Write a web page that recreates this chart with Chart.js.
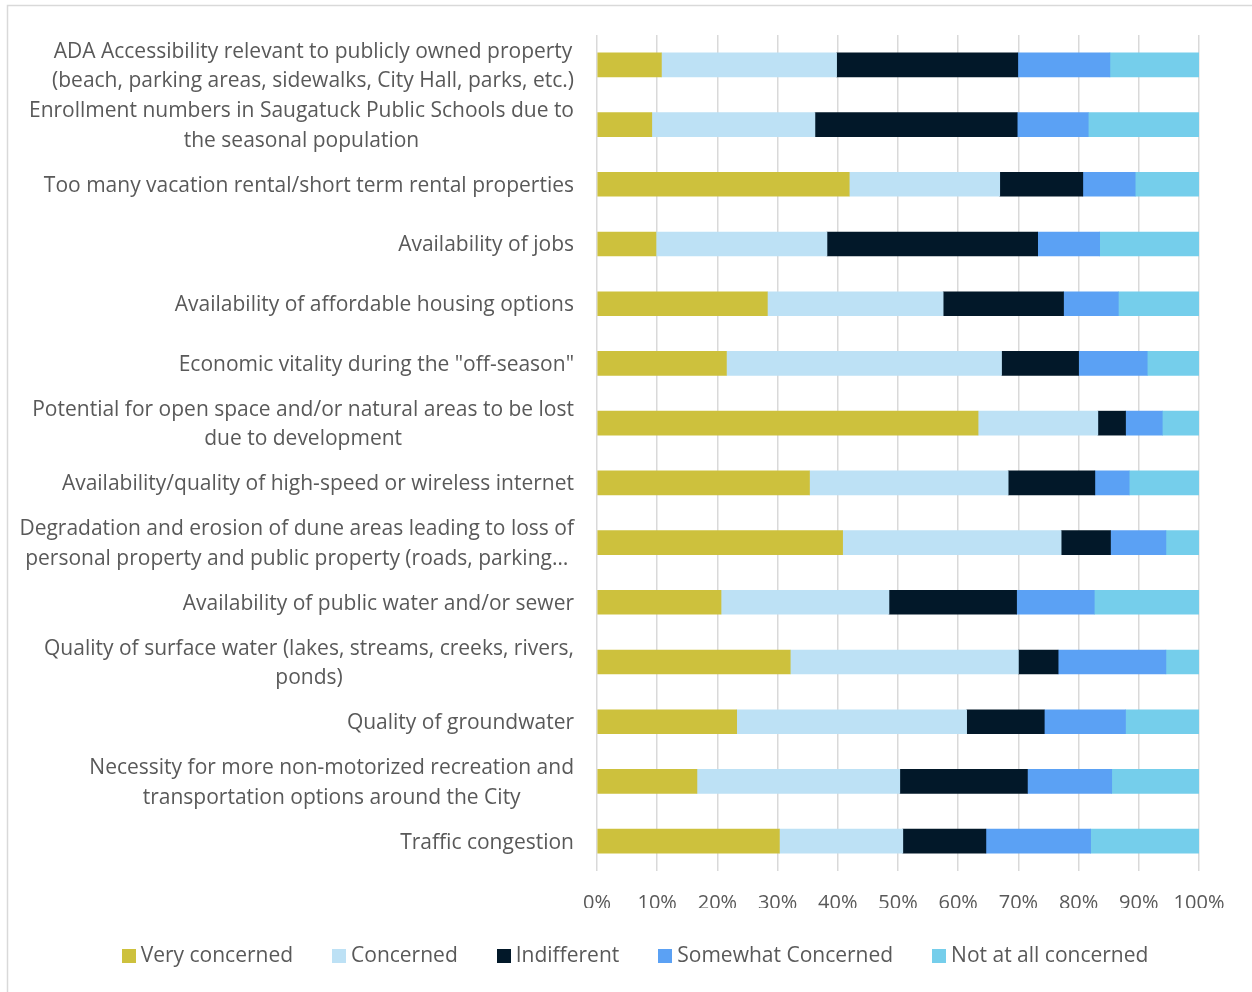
<!DOCTYPE html>
<html>
<head>
<meta charset="utf-8">
<title>Community concerns</title>
<script src="https://cdn.jsdelivr.net/npm/chart.js@4.4.1/dist/chart.umd.min.js"></script>
<style>
  html, body { margin: 0; padding: 0; background: #ffffff; }
  canvas { display: block; }
</style>
</head>
<body>
<canvas id="chart" width="1252" height="992"></canvas>
<script>
// Survey topics, each given as its display lines
const categories = [
  ["ADA Accessibility relevant to publicly owned property", "(beach, parking areas, sidewalks, City Hall, parks, etc.)"],
  ["Enrollment numbers in Saugatuck Public Schools due to", "the seasonal population"],
  ["Too many vacation rental/short term rental properties"],
  ["Availability of jobs"],
  ["Availability of affordable housing options"],
  ["Economic vitality during the \"off-season\""],
  ["Potential for open space and/or natural areas to be lost", "due to development"],
  ["Availability/quality of high-speed or wireless internet"],
  ["Degradation and erosion of dune areas leading to loss of", "personal property and public property (roads, parking\u2026"],
  ["Availability of public water and/or sewer"],
  ["Quality of surface water (lakes, streams, creeks, rivers,", "ponds)"],
  ["Quality of groundwater"],
  ["Necessity for more non-motorized recreation and", "transportation options around the City"],
  ["Traffic congestion"]
];

// Share of responses per topic (%)
const veryConcerned     = [10.7,  9.1, 41.9,  9.8, 28.3, 21.5, 63.3, 35.3, 40.8, 20.6, 32.1, 23.2, 16.6, 30.3];
const concerned         = [29.1, 27.1, 25.0, 28.4, 29.2, 45.7, 19.9, 33.0, 36.3, 27.9, 37.9, 38.2, 33.7, 20.5];
const indifferent       = [30.1, 33.6, 13.8, 35.0, 20.0, 12.8,  4.6, 14.4,  8.2, 21.2,  6.6, 12.9, 21.2, 13.8];
const somewhatConcerned = [15.3, 11.8,  8.7, 10.3,  9.1, 11.4,  6.1,  5.7,  9.2, 12.9, 17.9, 13.5, 14.0, 17.4];
const notAtAllConcerned = [14.8, 18.4, 10.6, 16.5, 13.4,  8.6,  6.1, 11.6,  5.5, 17.4,  5.5, 12.2, 14.5, 18.0];

const seriesNames = ["Very concerned", "Concerned", "Indifferent", "Somewhat Concerned", "Not at all concerned"];
const percentTicks = [0, 10, 20, 30, 40, 50, 60, 70, 80, 90, 100];

const seriesValues = [veryConcerned, concerned, indifferent, somewhatConcerned, notAtAllConcerned];
const seriesColors = ["#CDC13D", "#BDE1F5", "#021829", "#5BA1F4", "#75CEEB"];

const TEXT = "#595959";
const GRID = "#d9d9d9";
const FONT = '"Open Sans", "DejaVu Sans", sans-serif';

Chart.defaults.font.family = FONT;
Chart.defaults.color = TEXT;

// White page with a thin frame on the top and left edges
const framePlugin = {
  id: "frame",
  beforeDraw(chart) {
    const ctx = chart.ctx;
    ctx.save();
    ctx.fillStyle = "#ffffff";
    ctx.fillRect(0, 0, chart.width, chart.height);
    ctx.strokeStyle = GRID;
    ctx.lineWidth = 1.5;
    ctx.beginPath();
    ctx.moveTo(7.5, chart.height);
    ctx.lineTo(7.5, 5.5);
    ctx.lineTo(chart.width, 5.5);
    ctx.stroke();
    ctx.restore();
  }
};

// Category labels: block right-aligned to the axis, lines centred within the block
const categoryLabelPlugin = {
  id: "categoryLabels",
  afterDraw(chart) {
    const yScale = chart.scales.y;
    const ctx = chart.ctx;
    ctx.save();
    ctx.font = "21px " + FONT;
    ctx.fillStyle = TEXT;
    ctx.textAlign = "center";
    ctx.textBaseline = "middle";
    const rightEdge = chart.chartArea.left - 23;
    const lineHeight = 29.5;
    categories.forEach((lines, i) => {
      const yc = yScale.getPixelForValue(i) + 1.5;
      const blockWidth = Math.max(...lines.map(l => ctx.measureText(l).width));
      const cx = rightEdge - blockWidth / 2;
      lines.forEach((line, k) => {
        ctx.fillText(line, cx, yc + (k - (lines.length - 1) / 2) * lineHeight);
      });
    });
    ctx.restore();
  }
};

// Legend row under the axis: small square swatch, tight gap, then the series name
const legendRowPlugin = {
  id: "legendRow",
  afterDraw(chart) {
    const ctx = chart.ctx;
    ctx.save();
    ctx.font = "21px " + FONT;
    ctx.textAlign = "left";
    ctx.textBaseline = "middle";
    const box = 14, boxGap = 5, itemGap = 39;
    const centerX = 635, centerY = 956;
    const widths = chart.data.datasets.map(ds => box + boxGap + ctx.measureText(ds.label).width);
    const total = widths.reduce((a, b) => a + b, 0) + itemGap * (widths.length - 1);
    let x = centerX - total / 2;
    chart.data.datasets.forEach((ds, i) => {
      ctx.fillStyle = ds.backgroundColor;
      ctx.fillRect(Math.round(x), centerY - box / 2, box, box);
      ctx.fillStyle = TEXT;
      ctx.fillText(ds.label, x + box + boxGap, centerY);
      x += widths[i] + itemGap;
    });
    ctx.restore();
  }
};

new Chart(document.getElementById("chart"), {
  type: "bar",
  data: {
    labels: categories,
    datasets: seriesNames.map((name, i) => ({
      label: name,
      data: seriesValues[i],
      backgroundColor: seriesColors[i],
      borderWidth: 0,
      barThickness: 24
    }))
  },
  options: {
    indexAxis: "y",
    responsive: false,
    animation: false,
    devicePixelRatio: 1,
    layout: { padding: { left: 0, right: 53, top: 35, bottom: 84 } },
    scales: {
      x: {
        stacked: true,
        min: 0,
        max: 100,
        afterBuildTicks(scale) {
          scale.ticks = percentTicks.map(v => ({ value: v }));
        },
        afterFit(scale) { scale.height = 37; },
        grid: { color: GRID, lineWidth: 1.5, drawTicks: false },
        border: { display: false },
        ticks: {
          padding: 20,
          color: TEXT,
          font: { size: 20 },
          callback: v => v + "%"
        }
      },
      y: {
        stacked: true,
        afterFit(scale) { scale.width = 597; },
        grid: { display: false },
        border: { display: false },
        ticks: { display: false }
      }
    },
    plugins: {
      legend: { display: false },
      tooltip: { enabled: false }
    }
  },
  plugins: [framePlugin, categoryLabelPlugin, legendRowPlugin]
});
</script>
</body>
</html>
